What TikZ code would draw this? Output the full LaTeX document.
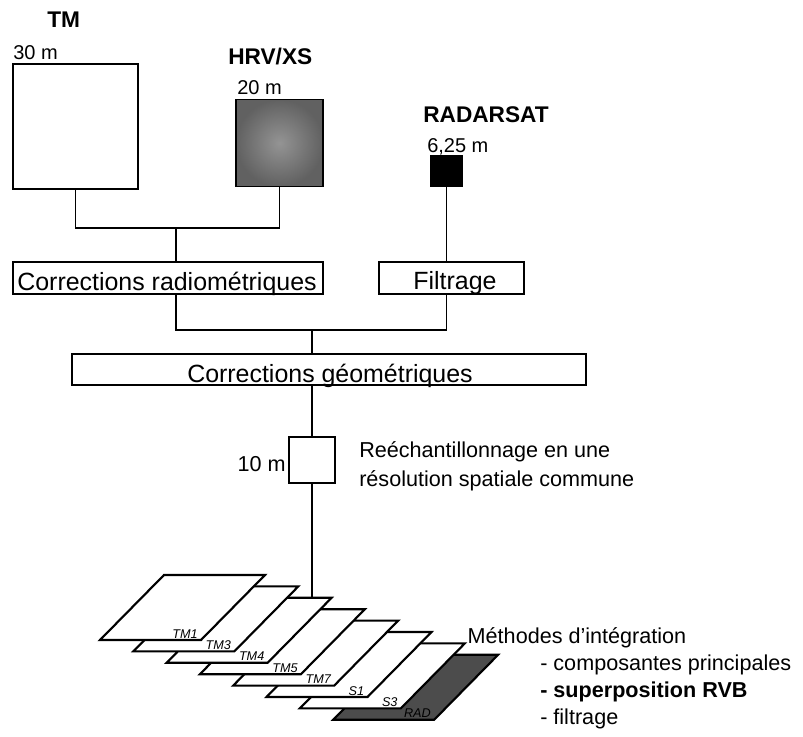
\documentclass[tikz,border=0pt]{standalone}
\usepackage{fontspec}
\setmainfont{Liberation Sans}
\newcommand{\fignodefont}{\fontsize{18.7}{22}\selectfont}
\newcommand{\figsatfont}{\fontsize{17}{20}\selectfont\bfseries}
\newcommand{\figresfont}{\fontsize{15}{18}\selectfont}
\newcommand{\figtextfont}{\fontsize{16.2}{20}\selectfont}
\newcommand{\figbandfont}{\fontsize{9.5}{11}\selectfont\itshape}
\begin{document}
\begin{tikzpicture}[x=0.75pt, y=-0.75pt, every node/.style={font=\fignodefont},
  procbox/.style={draw, line width=1.1pt, inner sep=0pt, minimum height=24pt},
  imgbox/.style={draw, line width=1.1pt, inner sep=0pt, minimum size=#1},
  satlbl/.style={anchor=base west, inner sep=0pt, font=\figsatfont},
  reslbl/.style={anchor=base west, inner sep=0pt, font=\figresfont},
  txtlbl/.style={anchor=base west, inner sep=0pt, font=\figtextfont},
  link/.style={line width=0.9pt},
  band/.style={line width=1.6pt, line join=miter}]
\definecolor{hrvlight}{gray}{0.58}
\definecolor{hrvdark}{gray}{0.38}
\definecolor{radcolor}{gray}{0.3}
\useasboundingbox (0,0) rectangle (803,737);
% Source images
\node[imgbox=93.75pt] (tm) at (75.5,126.5) {};
\node[imgbox=65.25pt, shade, inner color=hrvlight, outer color=hrvdark] (hrv) at (279.5,143) {};
\node[imgbox=23.6pt, fill=black] (radarsat) at (446.5,171) {};
\node[satlbl] (tmname) at (47,28) {TM};
\node[reslbl] (tmres) at (13,60) {30 m};
\node[satlbl] (hrvname) at (228,65) {HRV/XS};
\node[reslbl] (hrvres) at (237,95) {20 m};
\node[satlbl] (radname) at (423,123) {RADARSAT};
\node[reslbl] (radres) at (427,153) {6,25 m};
% Processing boxes
\node[procbox, minimum width=232.5pt] (radiom) at (168,278) {};
\node[anchor=base, inner sep=0pt] (radiomtxt) at (167,291) {Corrections radiométriques};
\node[procbox, minimum width=108.75pt] (filtre) at (451.5,278) {};
\node[anchor=base, inner sep=0pt] (filtretxt) at (455,290) {Filtrage};
\node[procbox, minimum width=385.5pt, minimum height=23.25pt] (geom) at (329,369.5) {};
\node[anchor=base, inner sep=0pt] (geomtxt) at (330,383) {Corrections géométriques};
\node[imgbox=34.5pt] (reech) at (312,460) {};
\node[anchor=base east, inner sep=0pt, font=\figtextfont] (reechres) at (286,472) {10 m};
\node[txtlbl] (reechtxt1) at (359,458) {Reéchantillonnage en une};
\node[txtlbl] (reechtxt2) at ([yshift=-21.75pt]reechtxt1.base west) {résolution spatiale commune};
% Junctions
\coordinate (j1) at (176,228);
\coordinate (j2) at (312,330);
\draw[link] (tm.south) |- (j1) -| (hrv.south);
\draw[link] (j1) -- (j1 |- radiom.north);
\draw[link] (radarsat.south) -- (radarsat.south |- filtre.north);
\draw[link] (j1 |- radiom.south) |- (j2) -| (radarsat.south |- filtre.south);
\draw[link] (j2) -- (j2 |- geom.north);
\draw[link] (j2 |- geom.south) -- (reech.north);
% Image bands, back to front: {label, index, fill}
\foreach \lab/\i/\fc in {RAD/7/radcolor, S3/6/white, S1/5/white, TM7/4/white,
                         TM5/3/white, TM4/2/white, TM3/1/white, TM1/0/white} {
  \pgfmathsetmacro{\bx}{100+33.3*\i}
  \pgfmathsetmacro{\by}{640+11.4*\i}
  \filldraw[band, fill=\fc] (\bx,\by) -- ++(101,0) -- ++(64,-65) -- ++(-101,0) -- cycle;
  \coordinate (bandtl\i) at ({\bx+64},{\by-65});
  \coordinate (bandtr\i) at ({\bx+165},{\by-65});
  \node[anchor=base east, inner sep=0pt, font=\figbandfont] (bandlbl\i) at ({\bx+98},{\by-2}) {\lab};
}
\draw[link] (reech.south) -- (reech.south |- bandtl2);
% Integration methods
\node[txtlbl] (methodes) at ([xshift=2pt]bandtr6) {Méthodes d’intégration};
\node[txtlbl] (meth1) at (540,670) {- composantes principales};
\node[txtlbl, font=\figtextfont\bfseries] (meth2) at ([yshift=-20.25pt]meth1.base west) {- superposition RVB};
\node[txtlbl] (meth3) at ([yshift=-20.25pt]meth2.base west) {- filtrage};
\end{tikzpicture}
\end{document}
